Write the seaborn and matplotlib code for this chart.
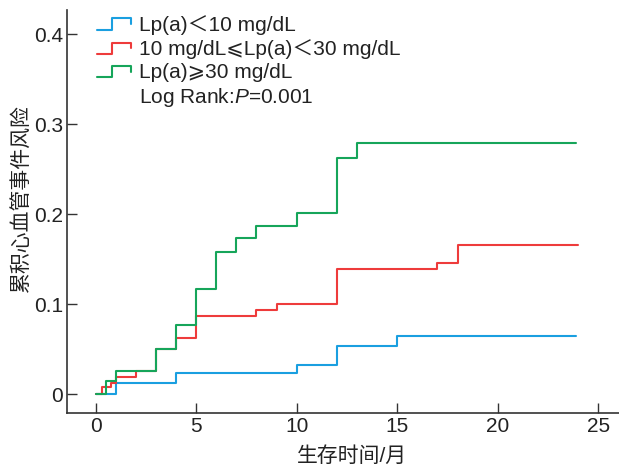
import numpy as np
import pandas as pd
import seaborn as sns
import matplotlib
matplotlib.use('Agg')
import matplotlib.pyplot as plt
from matplotlib.lines import Line2D
from matplotlib.legend_handler import HandlerBase

# cumulative risk per Lp(a) group (step changes)
time_low = [0, 1, 4, 10, 12, 15, 23.9]
risk_low = [0, 0.0123, 0.0238, 0.033, 0.0538, 0.0646, 0.0646]

time_mid = [0, 0.3, 0.75, 1, 2, 3, 4, 5, 8, 9, 12, 17, 18, 24]
risk_mid = [0, 0.008, 0.013, 0.0197, 0.0256, 0.05, 0.0624, 0.0873, 0.0936, 0.1003, 0.1393, 0.146, 0.1664, 0.1664]

time_high = [0, 0.5, 1, 3, 4, 5, 6, 7, 8, 10, 12, 13, 23.9]
risk_high = [0, 0.0145, 0.026, 0.05, 0.077, 0.117, 0.1586, 0.1735, 0.1876, 0.2017, 0.2626, 0.2789, 0.2789]

groups = ['Lp(a)\uff1c10 mg/dL', '10 mg/dL\u2a7dLp(a)\uff1c30 mg/dL', 'Lp(a)\u2a7e30 mg/dL']
colors = ['#1a9fe0', '#ee3b3b', '#16a55a']
p_text = 'Log Rank:$\\mathit{P}$=0.001'
x_ticks = [0, 5, 10, 15, 20, 25]
y_ticks = [0, 0.1, 0.2, 0.3, 0.4]
y_ticklabels = ['0', '0.1', '0.2', '0.3', '0.4']

sns.set_style('ticks')
plt.rcParams['font.family'] = ['Liberation Sans', 'Noto Sans CJK SC', 'DejaVu Sans']
plt.rcParams['mathtext.fontset'] = 'custom'
plt.rcParams['mathtext.rm'] = 'Liberation Sans'
plt.rcParams['mathtext.it'] = 'Liberation Sans:italic'

df = pd.concat([
    pd.DataFrame({'time': time_low, 'risk': risk_low, 'group': groups[0]}),
    pd.DataFrame({'time': time_mid, 'risk': risk_mid, 'group': groups[1]}),
    pd.DataFrame({'time': time_high, 'risk': risk_high, 'group': groups[2]}),
])

fig = plt.figure(figsize=(6.19, 4.68), dpi=100)
ax = fig.add_axes([67/619, 1 - 413/468, 1 - 67/619, (413 - 10)/468])

sns.lineplot(data=df, x='time', y='risk', hue='group', palette=colors,
             drawstyle='steps-post', estimator=None, sort=False,
             linewidth=1.5, legend=False, ax=ax)

ax.set_xlim(-1.42, 26.03)
ax.set_ylim(-0.0206, 0.4272)
ax.set_xticks(x_ticks)
ax.set_yticks(y_ticks)
ax.set_yticklabels(y_ticklabels)
ax.tick_params(direction='in', length=7, width=1, colors='#333333',
               labelsize=15, labelcolor='#222222', pad=3)
for s in ['top', 'right']:
    ax.spines[s].set_visible(False)
for s in ['left', 'bottom']:
    ax.spines[s].set_linewidth(1.2)
    ax.spines[s].set_color('#333333')

ax.set_xlabel('生存时间/月', fontsize=15, color='#222222')
ax.set_ylabel('累积心血管事件风险', fontsize=15, color='#222222')
ax.xaxis.set_label_coords(0.516, -0.083)
ax.yaxis.set_label_coords(-0.064, 0.534)


# step shaped legend keys
class StepHandler(HandlerBase):
    def create_artists(self, legend, orig_handle, xdescent, ydescent,
                       width, height, fontsize, trans):
        xs = np.array([0, 0.45, 0.45, 1, 1]) * width - xdescent
        ys = np.array([0.05, 0.05, 0.85, 0.85, 0.45]) * height - ydescent
        line = Line2D(xs, ys, color=orig_handle.get_color(), lw=1.5)
        line.set_transform(trans)
        return [line]


handles = [Line2D([], [], color=c) for c in colors]
blank = Line2D([], [], linestyle='none')
hmap = {h: StepHandler() for h in handles}
ax.legend(handles + [blank], groups + [p_text], handler_map=hmap,
          loc='upper left', bbox_to_anchor=(97/619, 1 - 15/468),
          bbox_transform=fig.transFigure, frameon=False, fontsize=15,
          handlelength=1.65, handletextpad=0.35, labelspacing=0.2,
          borderpad=0, borderaxespad=0, labelcolor='#222222')

fig.savefig('out.png', dpi=100)
